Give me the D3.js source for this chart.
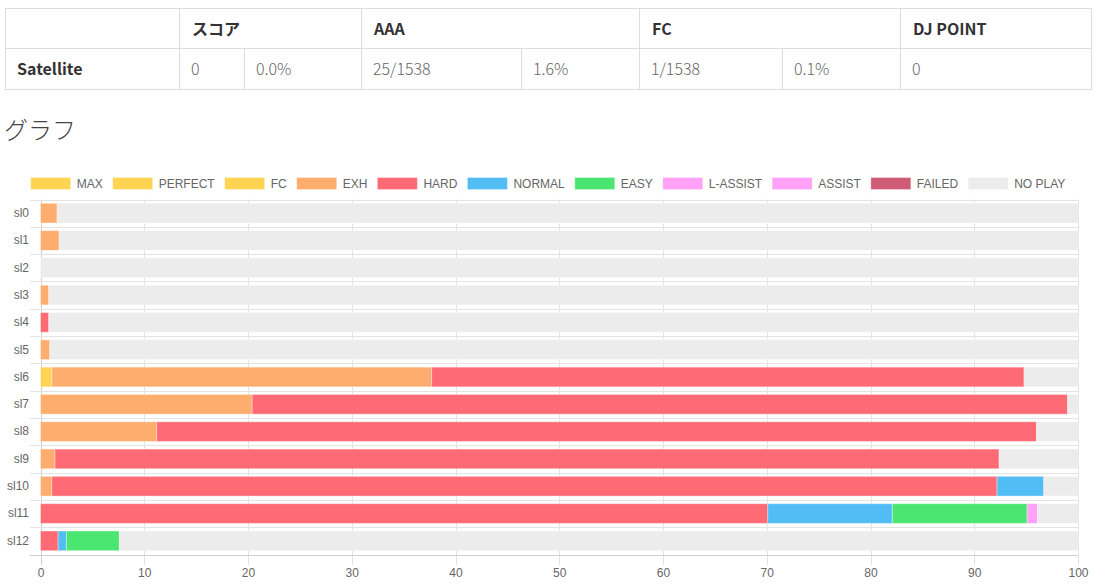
<!DOCTYPE html>
<html>
<head>
<meta charset="utf-8">
<script src="https://cdn.jsdelivr.net/npm/d3@7"></script>
<style>
  body { margin: 0; background: #fff; }
  svg { display: block; }
</style>
</head>
<body>
<script>
// table data
var tableHead = ["", "スコア", "AAA", "FC", "DJ POINT"];
var headSpan = [1, 2, 2, 2, 1];
var tableRow = ["Satellite", "0", "0.0%", "25/1538", "1.6%", "1/1538", "0.1%", "0"];
var colEdges = [5, 179, 244, 361, 521, 639, 782, 900, 1091];

// chart data (percent of each level)
var levels = ["sl0", "sl1", "sl2", "sl3", "sl4", "sl5", "sl6", "sl7", "sl8", "sl9", "sl10", "sl11", "sl12"];
var lampNames = ["MAX", "PERFECT", "FC", "EXH", "HARD", "NORMAL", "EASY", "L-ASSIST", "ASSIST", "FAILED", "NO PLAY"];
var lampColors = ["#ffd452", "#ffd452", "#ffd452", "#ffad6e", "#ff6b75", "#52bcf5", "#4be671", "#ffa1f6", "#ffa1f6", "#cd5c74", "#ececec"];

var maxVals     = [0, 0, 0, 0, 0, 0, 0, 0, 0, 0, 0, 0, 0];
var perfectVals = [0, 0, 0, 0, 0, 0, 0, 0, 0, 0, 0, 0, 0];
var fcVals      = [0, 0, 0, 0, 0, 0, 1.1, 0, 0, 0, 0, 0, 0];
var exhVals     = [1.6, 1.8, 0, 0.8, 0, 0.9, 36.6, 20.4, 11.2, 1.4, 1.1, 0, 0];
var hardVals    = [0, 0, 0, 0, 0.8, 0, 57.1, 78.6, 84.8, 91.0, 91.1, 70.1, 1.7];
var normalVals  = [0, 0, 0, 0, 0, 0, 0, 0, 0, 0, 4.5, 12.0, 0.8];
var easyVals    = [0, 0, 0, 0, 0, 0, 0, 0, 0, 0, 0, 13.0, 5.1];
var lassistVals = [0, 0, 0, 0, 0, 0, 0, 0, 0, 0, 0, 1.0, 0];
var assistVals  = [0, 0, 0, 0, 0, 0, 0, 0, 0, 0, 0, 0, 0];
var failedVals  = [0, 0, 0, 0, 0, 0, 0, 0, 0, 0, 0, 0, 0];
var noplayVals  = [98.4, 98.2, 100, 99.2, 99.2, 99.1, 5.2, 1.0, 4.0, 7.6, 3.3, 3.9, 92.4];

var xTicks = [0, 10, 20, 30, 40, 50, 60, 70, 80, 90, 100];

window.onload = function(){
  var w = 1095, h = 585;
  var svg = d3.select("body").append("svg")
    .attr("width", w)
    .attr("height", h);

  var jp = "'Noto Sans CJK JP', 'Noto Sans', sans-serif";
  var cj = "'Liberation Sans', Arial, Helvetica, sans-serif";

  // ---- table ----
  var tbl = svg.append("g").attr("class", "table");
  var top = 8.5, mid = 48.5, bot = 89.5;
  // header cells: span columns
  var hx = 0;
  tableHead.forEach(function(t, i){
    var x0 = colEdges[hx], x1 = colEdges[hx + headSpan[i]];
    tbl.append("rect").attr("x", x0 + 0.5).attr("y", top).attr("width", x1 - x0).attr("height", mid - top)
      .attr("fill", "none").attr("stroke", "#dddddd");
    tbl.append("text").attr("x", x0 + 13).attr("y", (top + mid) / 2 + 6)
      .attr("font-family", jp).attr("font-size", 16).attr("font-weight", "bold").attr("fill", "#333")
      .text(t);
    hx += headSpan[i];
  });
  tableRow.forEach(function(t, i){
    var x0 = colEdges[i], x1 = colEdges[i + 1];
    tbl.append("rect").attr("x", x0 + 0.5).attr("y", mid).attr("width", x1 - x0).attr("height", bot - mid)
      .attr("fill", "none").attr("stroke", "#dddddd");
    tbl.append("text").attr("x", x0 + 12).attr("y", (mid + bot) / 2 + 6)
      .attr("font-family", jp).attr("font-size", 16)
      .attr("font-weight", i == 0 ? "bold" : "300")
      .attr("fill", i == 0 ? "#333" : "#666")
      .text(t);
  });

  // ---- heading ----
  svg.append("text").attr("x", 4).attr("y", 139)
    .attr("font-family", jp).attr("font-size", 24).attr("font-weight", "300").attr("fill", "#444")
    .text("グラフ");

  // ---- stacked data ----
  var seriesVals = [maxVals, perfectVals, fcVals, exhVals, hardVals, normalVals, easyVals,
                    lassistVals, assistVals, failedVals, noplayVals];
  var rows = levels.map(function(lv, i){
    var r = {level: lv};
    lampNames.forEach(function(n, j){ r[n] = seriesVals[j][i]; });
    return r;
  });
  var stack = d3.stack().keys(lampNames)(rows);

  var x = d3.scaleLinear().domain([0, 100]).range([40.5, 1078]);
  var y = d3.scaleBand().domain(levels).range([199.5, 554.5]).padding(0);
  var color = d3.scaleOrdinal().domain(lampNames).range(lampColors);

  var grid = svg.append("g").attr("class", "grid");
  // vertical gridlines + tick marks
  grid.selectAll("line.v").data(xTicks).enter().append("line")
    .attr("class", "v")
    .attr("x1", function(d){ return Math.round(x(d)) + 0.5; })
    .attr("x2", function(d){ return Math.round(x(d)) + 0.5; })
    .attr("y1", 199.5).attr("y2", 565)
    .attr("stroke", function(d){ return d == 0 ? "#cfcfcf" : "#e3e3e3"; });
  // horizontal gridlines at band edges
  var edges = levels.map(function(l){ return y(l); }).concat([y.range()[1]]);
  grid.selectAll("line.h").data(edges).enter().append("line")
    .attr("class", "h")
    .attr("x1", 30).attr("x2", 1078)
    .attr("y1", function(d){ return Math.round(d) + 0.5; })
    .attr("y2", function(d){ return Math.round(d) + 0.5; })
    .attr("stroke", function(d, i){ return i == edges.length - 1 ? "#cfcfcf" : "#e3e3e3"; });

  // bars
  var barH = y.bandwidth() * 0.72;
  var layers = svg.append("g").selectAll("g").data(stack).enter().append("g")
    .attr("fill", function(d){ return color(d.key); });
  layers.selectAll("rect").data(function(d){ return d; }).enter().append("rect")
    .filter(function(d){ return d[1] - d[0] > 0; })
    .attr("x", function(d){ return x(d[0]); })
    .attr("y", function(d){ return y(d.data.level) + (y.bandwidth() - barH) / 2; })
    .attr("width", function(d){ return x(d[1]) - x(d[0]); })
    .attr("height", barH)
    .attr("stroke", "rgba(255,255,255,0.35)")
    .attr("stroke-width", 1);

  // y labels
  var yAxis = svg.append("g").attr("transform", "translate(30,0)")
    .call(d3.axisLeft(y).tickSize(0).tickPadding(1));
  yAxis.select(".domain").remove();
  yAxis.selectAll("text").attr("font-family", cj).attr("font-size", 12).attr("fill", "#666");

  // x labels
  var xAxis = svg.append("g").attr("transform", "translate(0,566)")
    .call(d3.axisBottom(x).tickValues(xTicks).tickSize(0).tickPadding(2));
  xAxis.select(".domain").remove();
  xAxis.selectAll("text").attr("font-family", cj).attr("font-size", 12).attr("fill", "#666");

  // ---- legend ----
  var leg = svg.append("g").attr("class", "legend");
  var items = leg.selectAll("g").data(lampNames).enter().append("g");
  items.append("rect").attr("width", 40).attr("height", 12)
    .attr("fill", function(d){ return color(d); })
    .attr("stroke", "rgba(255,255,255,0.35)");
  items.append("text").attr("x", 46).attr("y", 10.5)
    .attr("font-family", cj).attr("font-size", 12).attr("fill", "#666")
    .text(function(d){ return d; });
  var widths = [];
  items.each(function(){
    widths.push(46 + d3.select(this).select("text").node().getComputedTextLength());
  });
  var total = d3.sum(widths) + 10 * (widths.length - 1);
  var lx = (1092 - total) / 2 + 2;
  items.attr("transform", function(d, i){
    var t = "translate(" + lx + ",177.5)";
    lx += widths[i] + 10;
    return t;
  });
};
</script>
</body>
</html>
